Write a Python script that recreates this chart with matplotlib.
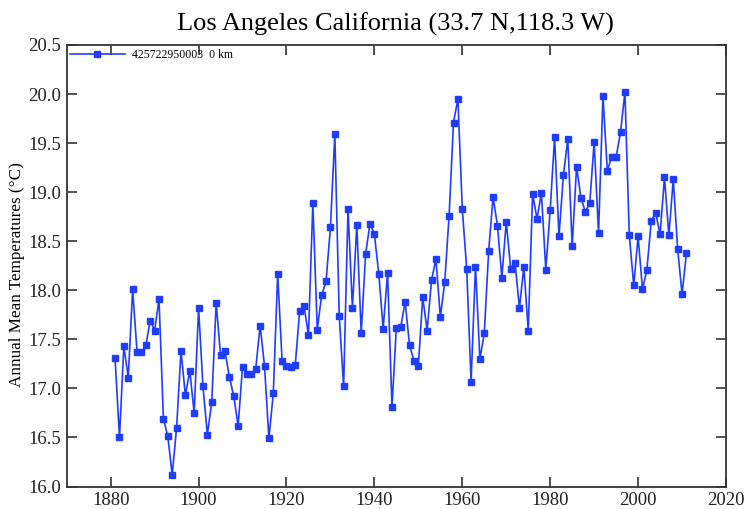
import matplotlib
matplotlib.use("Agg")
import matplotlib.pyplot as plt
import numpy as np

years = list(range(1881, 2012))
temps = [
    17.31, 16.50, 17.43, 17.11, 18.01, 17.37, 17.37, 17.44, 17.69, 17.59,  # 1881-1890
    17.91, 16.69, 16.51, 16.12, 16.60, 17.38, 16.93, 17.18, 16.75, 17.82,  # 1891-1900
    17.02, 16.53, 16.86, 17.87, 17.34, 17.38, 17.12, 16.92, 16.62, 17.22,  # 1901-1910
    17.15, 17.15, 17.20, 17.64, 17.23, 16.49, 16.95, 18.17, 17.28, 17.23,  # 1911-1920
    17.22, 17.24, 17.79, 17.84, 17.54, 18.89, 17.60, 17.95, 18.09, 18.64,  # 1921-1930
    19.59, 17.74, 17.02, 18.83, 17.82, 18.67, 17.56, 18.37, 18.68, 18.57,  # 1931-1940
    18.17, 17.61, 18.18, 16.81, 17.62, 17.63, 17.88, 17.44, 17.28, 17.23,  # 1941-1950
    17.93, 17.59, 18.10, 18.32, 17.73, 18.08, 18.76, 19.71, 19.95, 18.83,  # 1951-1960
    18.22, 17.07, 18.24, 17.30, 17.56, 18.40, 18.95, 18.66, 18.13, 18.70,  # 1961-1970
    18.22, 18.28, 17.82, 18.24, 17.59, 18.98, 18.73, 18.99, 18.21, 18.82,  # 1971-1980
    19.56, 18.55, 19.17, 19.54, 18.45, 19.26, 18.94, 18.80, 18.89, 19.51,  # 1981-1990
    18.58, 19.98, 19.22, 19.36, 19.36, 19.61, 20.02, 18.56, 18.05, 18.55,  # 1991-2000
    18.01, 18.21, 18.71, 18.79, 18.57, 19.15, 18.56, 19.13, 18.42, 17.96,  # 2001-2010
    18.38,                                                                 # 2011
]
station = "425722950003  0 km"
title = "Los Angeles California (33.7 N,118.3 W)"
xticks = list(range(1880, 2021, 20))
yticks = np.arange(16.0, 20.51, 0.5)

plt.rcParams['font.family'] = ['Liberation Serif', 'DejaVu Serif']

fig = plt.figure(figsize=(7.48, 5.09), dpi=100)
ax = fig.add_axes([0.0892, 0.0442, 0.8814, 0.8674])

color = "#1f3dff"
ax.plot(years, temps, color=color, linewidth=1.2, marker='s', markersize=4.2,
        markeredgecolor=color, markerfacecolor=color, label=station)

ax.set_xlim(1870, 2020)
ax.set_ylim(16.0, 20.5)
ax.set_xticks(xticks)
ax.set_yticks(yticks)
ax.set_yticklabels(["%.1f" % v for v in yticks])
ax.tick_params(direction='in', length=7, width=1.1, top=True, right=True,
               labelsize=13.5, colors='#222222', pad=4)
for s in ax.spines.values():
    s.set_linewidth(1.3)
    s.set_color('#333333')

ax.set_ylabel("Annual Mean Temperatures (°C)", fontsize=12.3)
ax.yaxis.set_label_coords(-0.063, 0.48)
fig.text(0.528, 0.953, title, ha='center', va='center', fontsize=19)

leg = ax.legend(loc='upper left', frameon=False, fontsize=8.5, handlelength=4.66,
                borderaxespad=0.0, borderpad=0.1, handletextpad=0.6,
                numpoints=1, bbox_to_anchor=(0.003, 0.994))

fig.savefig("out.png", dpi=100, facecolor='white')
